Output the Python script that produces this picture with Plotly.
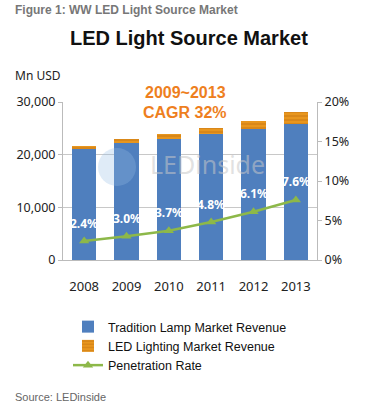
import plotly.graph_objects as go

years = ["2008", "2009", "2010", "2011", "2012", "2013"]
tradition_revenue = [21100, 22200, 23000, 23900, 24800, 25900]
led_revenue = [520, 690, 880, 1200, 1610, 2130]
penetration_rate = [0.024, 0.030, 0.037, 0.048, 0.061, 0.076]
penetration_labels = ["2.4%", "3.0%", "3.7%", "4.8%", "6.1%", "7.6%"]

BASE_FONT = "Liberation Sans, Arial, sans-serif"
TICK_FONT = "Noto Sans, Liberation Sans, sans-serif"

W, H = 368, 409
ML, MR, MT, MB = 63, 51, 102, 149
PW, PH = W - ML - MR, H - MT - MB


def px(xp):
    return (xp - ML) / PW


def py(yp):
    return (H - MB - yp) / PH


fig = go.Figure()
fig.add_trace(go.Bar(
    x=years, y=tradition_revenue, name="Tradition Lamp Market Revenue",
    marker=dict(color="#4F7FBE", line=dict(width=0)),
))
fig.add_trace(go.Bar(
    x=years, y=led_revenue, name="LED Lighting Market Revenue",
    marker=dict(color="#E8961E", line=dict(width=0),
                pattern=dict(shape="-", fgcolor="#B5650C", size=4, solidity=0.3)),
))
fig.add_trace(go.Scatter(
    x=years, y=penetration_rate, name="Penetration Rate", yaxis="y2",
    mode="lines+markers",
    line=dict(color="#8DB849", width=2.5),
    marker=dict(symbol="triangle-up", size=9, color="#8DB849"),
))

annotations = [
    dict(text="<b>Figure 1: WW LED Light Source Market</b>", x=px(13), y=py(10),
         xanchor="left", yanchor="middle",
         font=dict(family=BASE_FONT, size=12, color="#777777")),
    dict(text="<b>LED Light Source Market</b>", x=px(189), y=py(38),
         xanchor="center", yanchor="middle",
         font=dict(family=BASE_FONT, size=20, color="#111111")),
    dict(text="Mn USD", x=px(13), y=py(75), xanchor="left", yanchor="middle",
         font=dict(family=TICK_FONT, size=12, color="#222222")),
    dict(text="<b>2009~2013</b>", x=px(185), y=py(92), xanchor="center", yanchor="middle",
         font=dict(family=BASE_FONT, size=16, color="#EE7F1E")),
    dict(text="<b>CAGR 32%</b>", x=px(185), y=py(112), xanchor="center", yanchor="middle",
         font=dict(family=BASE_FONT, size=16, color="#EE7F1E")),
    dict(text="LEDinside", x=px(207), y=py(164), xanchor="center", yanchor="middle",
         font=dict(family=TICK_FONT, size=25, color="rgba(200,200,200,0.55)")),
    dict(text="Source: LEDinside", x=px(13), y=py(397), xanchor="left", yanchor="middle",
         font=dict(family=BASE_FONT, size=11, color="#666666")),
]
for a in annotations:
    a.update(xref="paper", yref="paper", showarrow=False)

for i, (rate, lab) in enumerate(zip(penetration_rate, penetration_labels)):
    annotations.append(dict(
        text="<b>" + lab + "</b>", x=i, y=rate, xref="x", yref="y2",
        showarrow=False, yshift=18, xanchor="center", yanchor="middle",
        font=dict(family=TICK_FONT, size=12, color="white"),
    ))

shapes = [
    dict(type="circle", xref="paper", yref="paper",
         x0=px(98), x1=px(136), y0=py(186), y1=py(148),
         fillcolor="rgba(150,190,230,0.3)", line=dict(width=0), layer="above"),
]

fig.update_layout(
    width=W, height=H,
    margin=dict(l=ML, r=MR, t=MT, b=MB),
    paper_bgcolor="white", plot_bgcolor="white",
    barmode="stack", bargap=0.43,
    showlegend=True,
    legend=dict(x=px(68), y=py(312), xanchor="left", yanchor="top",
                font=dict(family=BASE_FONT, size=12.5, color="#111111"),
                traceorder="normal", tracegroupgap=0, itemwidth=30,
                bgcolor="rgba(0,0,0,0)"),
    xaxis=dict(type="category", categoryorder="array", categoryarray=years,
               range=[-0.5, 5.5], autorange=False,
               showline=True, linecolor="#BBBBBB", linewidth=1, ticks="",
               tickfont=dict(family=TICK_FONT, size=13, color="#222222"),
               ticklabelstandoff=14, showgrid=False),
    yaxis=dict(range=[0, 30000], dtick=10000, tickformat=",",
               showline=True, linecolor="#BBBBBB", linewidth=1,
               ticks="outside", ticklen=4, tickcolor="#BBBBBB",
               gridcolor="#C8C8C8", gridwidth=1, zeroline=False,
               tickfont=dict(family=TICK_FONT, size=12.5, color="#222222")),
    yaxis2=dict(range=[0, 0.2], dtick=0.05, tickformat=".0%", overlaying="y",
                side="right", showline=True, linecolor="#BBBBBB", linewidth=1,
                ticks="outside", ticklen=4, tickcolor="#BBBBBB",
                showgrid=False, zeroline=False,
                tickfont=dict(family=TICK_FONT, size=12.5, color="#222222")),
    annotations=annotations,
    shapes=shapes,
)

fig.write_html("out.html", config={"displayModeBar": False},
               post_script="document.body.style.margin='0px';document.body.style.padding='0px';")
